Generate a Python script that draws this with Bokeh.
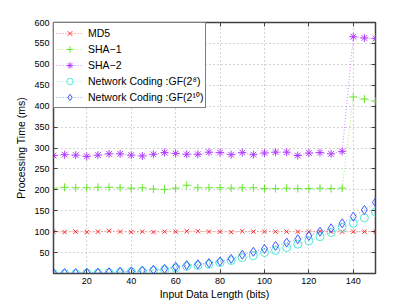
from bokeh.plotting import figure
from bokeh.models import Range1d, FixedTicker, LinearAxis, Legend, LegendItem
from bokeh.embed import file_html
from bokeh.resources import INLINE

x = list(range(5, 151, 5))
md5 = [100, 99, 100, 99, 100, 102, 100, 99, 100, 99, 100, 100, 101, 101, 100,
       100, 99, 101, 100, 100, 100, 100, 100, 100, 101, 100, 100, 100, 100, 100]
sha1 = [204, 206, 205, 205, 206, 206, 205, 204, 205, 202, 201, 204, 211, 205, 205,
        205, 204, 205, 205, 203, 203, 204, 203, 203, 204, 203, 204, 422, 417, 412]
sha2 = [282, 284, 283, 280, 283, 286, 286, 283, 281, 285, 289, 287, 285, 285, 290,
        289, 284, 289, 284, 288, 290, 290, 282, 288, 289, 286, 292, 566, 563, 562]
gf8 = [0, 0, 0, 1, 1, 2, 3, 4, 5, 7, 9, 13, 17, 19, 22,
       26, 31, 38, 43, 50, 55, 62, 70, 78, 88, 98, 110, 120, 133, 147]
gf10 = [1, 1, 1, 2, 2, 3, 4, 5, 7, 9, 11, 16, 20, 22, 25,
        29, 35, 45, 52, 59, 66, 74, 82, 90, 100, 108, 120, 136, 152, 170]

labels = ["MD5", "SHA\u22121", "SHA\u22122",
          "Network Coding :GF(2\u2078)", "Network Coding :GF(2\u00b9\u2070)"]
series = [md5, sha1, sha2, gf8, gf10]
colors = ["#ff2a2a", "#66e62e", "#b03cff", "#4fe8d8", "#3b5bff"]
markers = ["x", "cross", "asterisk", "circle", "diamond"]
sizes = [6, 8, 8, 8, 9]

x_ticks = [20, 40, 60, 80, 100, 120, 140]
y_ticks = [50, 100, 150, 200, 250, 300, 350, 400, 450, 500, 550, 600]

FONT = "Liberation Sans"
AX = "#404040"

p = figure(frame_width=322, frame_height=251, output_backend="svg",
           toolbar_location=None, x_range=Range1d(5, 150), y_range=Range1d(0, 600),
           min_border_left=53, min_border_top=22, min_border_right=31,
           min_border_bottom=24)
p.background_fill_color = "white"
p.border_fill_color = "white"
p.outline_line_color = AX
p.outline_line_width = 1.5

for ax, ticks in ((p.xaxis[0], x_ticks), (p.yaxis[0], y_ticks)):
    ax.ticker = FixedTicker(ticks=ticks)
    ax.major_tick_in = 4
    ax.major_tick_out = 0
    ax.minor_tick_line_color = None
    ax.axis_line_color = AX
    ax.major_tick_line_color = AX
    ax.major_label_text_font = FONT
    ax.major_label_text_font_size = "9px"
    ax.major_label_text_color = "black"
    ax.axis_label_text_font = FONT
    ax.axis_label_text_font_size = "10.5px"
    ax.axis_label_text_font_style = "normal"
    ax.axis_label_text_color = "black"
    ax.major_label_standoff = 4

p.xaxis.axis_label = "Input Data Length (bits)"
p.yaxis.axis_label = "Processing Time (ms)"
p.xaxis.axis_label_standoff = 1
p.yaxis.axis_label_standoff = 4

for loc, ticks in (("above", x_ticks), ("right", y_ticks)):
    a = LinearAxis(ticker=FixedTicker(ticks=ticks))
    a.major_tick_in = 4
    a.major_tick_out = 0
    a.minor_tick_line_color = None
    a.axis_line_color = None
    a.major_tick_line_color = AX
    a.major_label_text_color = None
    a.major_label_text_font_size = "8px"
    a.major_label_standoff = 0
    p.add_layout(a, loc)

p.xgrid.ticker = FixedTicker(ticks=x_ticks)
p.ygrid.ticker = FixedTicker(ticks=y_ticks)
for g in (p.xgrid[0], p.ygrid[0]):
    g.grid_line_color = "#a8a8a8"
    g.grid_line_dash = "1 3"
    g.grid_line_width = 1

items = []
for lab, ys, c, m, s in zip(labels, series, colors, markers, sizes):
    lr = p.line(x, ys, line_color=c, line_dash="1 2", line_width=1, line_alpha=0.6)
    sr = p.scatter(x, ys, marker=m, size=s, line_color=c, fill_color=None, line_width=1)
    items.append(LegendItem(label=lab, renderers=[lr, sr]))

legend = Legend(items=items, location="top_left")
legend.label_text_font = FONT
legend.label_text_font_size = "10.5px"
legend.label_text_color = "black"
legend.border_line_color = "black"
legend.border_line_width = 1
legend.background_fill_color = "white"
legend.background_fill_alpha = 1
legend.margin = 0
legend.padding = 2
legend.spacing = 0
legend.label_height = 16
legend.glyph_height = 16
legend.glyph_width = 27
legend.label_standoff = 5
p.add_layout(legend)

open("out.html", "w").write(file_html(p, INLINE))
